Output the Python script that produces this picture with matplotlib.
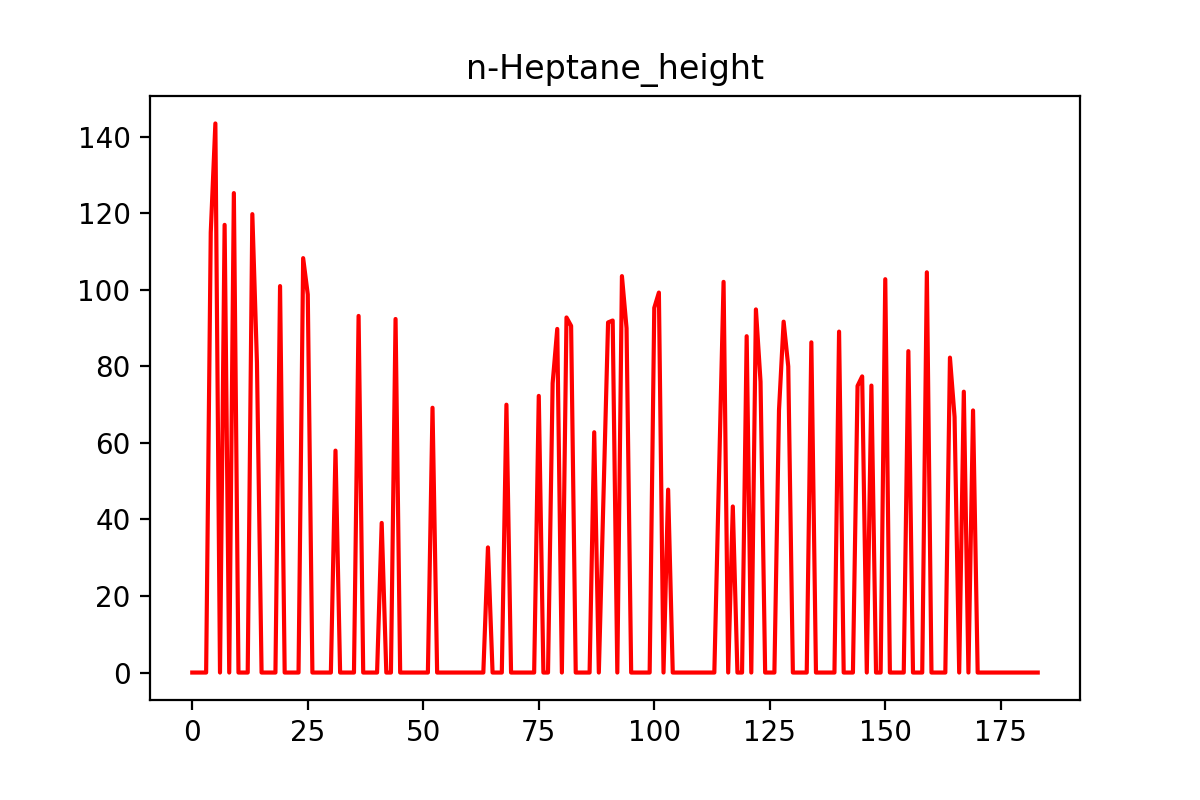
import matplotlib
matplotlib.use('Agg')
import matplotlib.pyplot as plt
import numpy as np

TITLE = 'n-Heptane_height'

# one value per sample, index 0..183
heights = [
    0, 0, 0, 0, 115, 143.5, 0, 117, 0, 125.3,
    0, 0, 0, 119.8, 81, 0, 0, 0, 0, 101,
    0, 0, 0, 0, 108.3, 98.8, 0, 0, 0, 0,
    0, 58, 0, 0, 0, 0, 93.2, 0, 0, 0,
    0, 39.1, 0, 0, 92.4, 0, 0, 0, 0, 0,
    0, 0, 69.2, 0, 0, 0, 0, 0, 0, 0,
    0, 0, 0, 0, 32.7, 0, 0, 0, 70, 0,
    0, 0, 0, 0, 0, 72.3, 0, 0, 75.6, 89.8,
    0, 92.8, 90.6, 0, 0, 0, 0, 62.8, 0, 46,
    91.5, 92, 0, 103.6, 90, 0, 0, 0, 0, 0,
    95.3, 99.3, 0, 47.8, 0, 0, 0, 0, 0, 0,
    0, 0, 0, 0, 51, 102.1, 0, 43.4, 0, 0,
    87.9, 0, 94.9, 76, 0, 0, 0, 68.6, 91.7, 80,
    0, 0, 0, 0, 86.3, 0, 0, 0, 0, 0,
    89.1, 0, 0, 0, 74.9, 77.4, 0, 75, 0, 0,
    102.8, 0, 0, 0, 0, 84, 0, 0, 0, 104.6,
    0, 0, 0, 0, 82.3, 66.8, 0, 73.4, 0, 68.5,
    0, 0, 0, 0, 0, 0, 0, 0, 0, 0,
    0, 0, 0, 0,
]


def plot_heights():
    fig = plt.figure(figsize=(6, 4), dpi=200)
    fig.subplots_adjust(bottom=0.125)
    plt.plot(np.arange(len(heights)), heights, color='r')
    plt.title(TITLE)
    fig.savefig('out.png')
    plt.close()


if __name__ == '__main__':
    plot_heights()
